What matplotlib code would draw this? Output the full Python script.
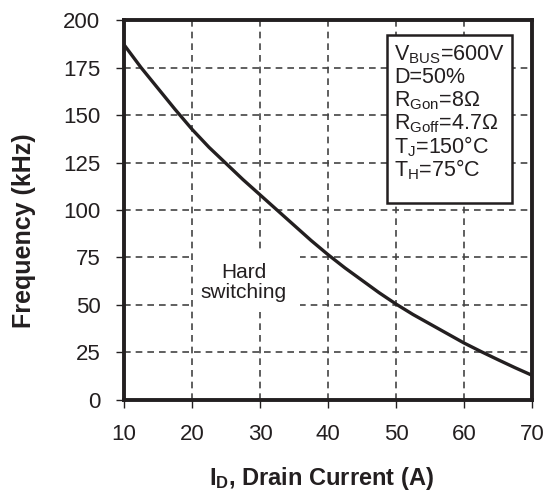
# Switching frequency vs drain current (hard switching)

import numpy as np
import matplotlib.pyplot as plt
from matplotlib.patches import Rectangle

plt.rcParams['font.family'] = ['Liberation Sans', 'DejaVu Sans']
plt.rcParams['mathtext.fontset'] = 'custom'
plt.rcParams['mathtext.rm'] = 'Liberation Sans'
plt.rcParams['mathtext.it'] = 'Liberation Sans'
plt.rcParams['mathtext.bf'] = 'Liberation Sans:bold'

# Data
drain_current = [10, 12.5, 15, 17.5, 20, 22.5, 25, 27.5, 30, 32.5, 35,
                 37.5, 40, 42.5, 45, 47.5, 50, 52.5, 55, 57.5, 60, 62.5,
                 65, 67.5, 70]
frequency = [187, 175, 164, 153, 142.5, 133, 124.5, 116, 108, 100, 92,
             84, 76.5, 69.5, 63, 56.5, 50.5, 45, 40, 35, 30, 25.5,
             21.2, 17, 13]

x_ticks = [10, 20, 30, 40, 50, 60, 70]
y_ticks = [0, 25, 50, 75, 100, 125, 150, 175, 200]

conditions = [r'V$_{\mathregular{BUS}}$=600V',
              'D=50%',
              r'R$_{\mathregular{Gon}}$=8Ω',
              r'R$_{\mathregular{Goff}}$=4.7Ω',
              r'T$_{\mathregular{J}}$=150°C',
              r'T$_{\mathregular{H}}$=75°C']

ink = '#231f20'

fig = plt.figure(figsize=(5.47, 4.94), dpi=100)
ax = fig.add_axes([0.2267, 0.1903, 0.7459, 0.7692])

ax.plot(drain_current, frequency, color=ink, lw=2.4, zorder=3)

ax.set_xlim(10, 70)
ax.set_ylim(0, 200)
ax.set_xticks(x_ticks)
ax.set_yticks(y_ticks)
ax.tick_params(direction='out', length=6, width=1, color=ink,
               labelsize=16, labelcolor=ink, pad=11)
ax.grid(True, color='#444444', ls=(0, (4, 3)), lw=1.2)
for s in ax.spines.values():
    s.set_linewidth(2.8)
    s.set_color(ink)

ax.set_xlabel(r'I$_{\mathregular{D}}$, Drain Current (A)', fontsize=17,
              fontweight='bold', color=ink)
ax.set_ylabel('Frequency (kHz)', fontsize=18, fontweight='bold', color=ink)
ax.xaxis.set_label_coords(0.483, -0.172)
ax.yaxis.set_label_coords(-0.215, 0.445)

# white patch behind the region label, hides the grid there
ax.add_patch(Rectangle((20.3, 46.5), 15.6, 32.5, facecolor='white',
                       edgecolor='none', zorder=2.5))
ax.text(27.6, 62, 'Hard\nswitching', ha='center', va='center',
        fontsize=15, color=ink, linespacing=1.05, zorder=4)

# conditions box
ax.add_patch(Rectangle((48.7, 103.7), 18.4, 88.3, facecolor='white',
                       edgecolor=ink, lw=1.8, zorder=4))
baselines = [178.9, 166.8, 154.4, 142.2, 130.0, 117.6]
for label, yb in zip(conditions, baselines):
    ax.text(49.7, yb, label, ha='left', va='baseline', fontsize=15.5,
            color=ink, zorder=5)

fig.savefig('out.png', dpi=100)
